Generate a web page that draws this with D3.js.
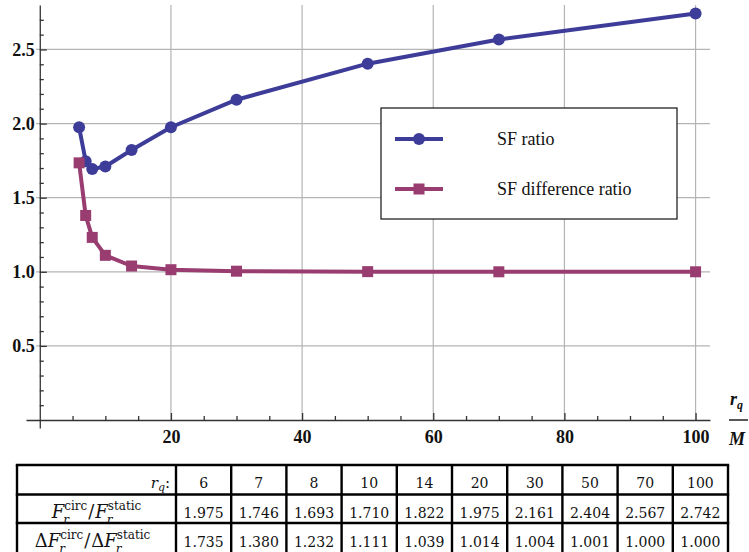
<!DOCTYPE html>
<html>
<head>
<meta charset="utf-8">
<script src="https://cdn.jsdelivr.net/npm/d3@7"></script>
<style>
  html, body { margin: 0; padding: 0; background: #fff; }
  svg { display: block; }
</style>
</head>
<body>
<svg id="chart" width="749" height="552"></svg>
<script>
// ---- data ----
const rqValues = [6, 7, 8, 10, 14, 20, 30, 50, 70, 100];
const sfRatio = [1.975, 1.746, 1.693, 1.710, 1.822, 1.975, 2.161, 2.404, 2.567, 2.742];
const sfDiffRatio = [1.735, 1.380, 1.232, 1.111, 1.039, 1.014, 1.004, 1.001, 1.000, 1.000];
const seriesNames = ["SF ratio", "SF difference ratio"];
const xMajorTicks = [20, 40, 60, 80, 100];
const xMinorTicks = [5, 10, 15, 25, 30, 35, 45, 50, 55, 65, 70, 75, 85, 90, 95];
const yMajorTicks = [0.5, 1.0, 1.5, 2.0, 2.5];
const yMinorTicks = [0.1,0.2,0.3,0.4,0.6,0.7,0.8,0.9,1.1,1.2,1.3,1.4,1.6,1.7,1.8,1.9,2.1,2.2,2.3,2.4,2.6,2.7];

const colors = ["#3d3d99", "#993d70"];
const svg = d3.select("#chart");

const x = d3.scaleLinear().domain([-2.1, 102.2]).range([26, 710]);
const y = d3.scaleLinear().domain([-0.054, 2.8]).range([428, 5]);

// gridlines
const grid = svg.append("g");
grid.selectAll("line.v").data(xMajorTicks).join("line")
  .attr("x1", d => x(d)).attr("x2", d => x(d))
  .attr("y1", y(2.8)).attr("y2", y(0))
  .attr("stroke", "#b4b4b4").attr("stroke-width", 1.2);
grid.selectAll("line.h").data(yMajorTicks).join("line")
  .attr("x1", 36).attr("x2", x.range()[1])
  .attr("y1", d => y(d)).attr("y2", d => y(d))
  .attr("stroke", "#b4b4b4").attr("stroke-width", 1.2);

// axes
const axisColor = "#333";
const labelFont = "Liberation Serif";
function styleAxis(g) {
  g.selectAll("path, line").attr("stroke", axisColor).attr("stroke-width", 1.3);
  g.selectAll("text").attr("fill", "#111").attr("font-family", labelFont)
    .attr("font-weight", "bold").attr("font-size", 18);
}
const xAxisG = svg.append("g").attr("transform", `translate(0,${y(0)})`)
  .call(d3.axisBottom(x).tickValues(xMajorTicks).tickSizeInner(-7).tickSizeOuter(0)
    .tickPadding(10).tickFormat(d3.format("d")));
styleAxis(xAxisG);
const xMinorG = svg.append("g").attr("transform", `translate(0,${y(0)})`)
  .call(d3.axisBottom(x).tickValues(xMinorTicks).tickSizeInner(-4).tickSizeOuter(0).tickFormat(""));
xMinorG.select(".domain").remove();
styleAxis(xMinorG);

const yAxisG = svg.append("g").attr("transform", `translate(${x(0)},0)`)
  .call(d3.axisLeft(y).tickValues(yMajorTicks).tickSizeInner(-7).tickSizeOuter(0)
    .tickPadding(5).tickFormat(d3.format(".1f")));
styleAxis(yAxisG);
const yMinorG = svg.append("g").attr("transform", `translate(${x(0)},0)`)
  .call(d3.axisLeft(y).tickValues(yMinorTicks).tickSizeInner(-4).tickSizeOuter(0).tickFormat(""));
yMinorG.select(".domain").remove();
styleAxis(yMinorG);

// axis label r_q / M
const axLab = svg.append("g").attr("font-family", labelFont).attr("font-weight", "bold")
  .attr("font-style", "italic").attr("fill", "#111");
const rt = axLab.append("text").attr("x", 730).attr("y", 405).attr("font-size", 18);
rt.append("tspan").text("r");
rt.append("tspan").attr("dy", 4).attr("font-size", 12).text("q");
axLab.append("line").attr("x1", 729).attr("x2", 748).attr("y1", y(0)).attr("y2", y(0))
  .attr("stroke", "#111").attr("stroke-width", 1.4);
axLab.append("text").attr("x", 729).attr("y", 445).attr("font-size", 18).text("M");

// series
const series = [sfRatio, sfDiffRatio];
const line = d3.line().x(d => x(d[0])).y(d => y(d[1]));
series.forEach((vals, si) => {
  const pts = rqValues.map((r, i) => [r, vals[i]]);
  const g = svg.append("g");
  g.append("path").datum(pts).attr("d", line).attr("fill", "none")
    .attr("stroke", colors[si]).attr("stroke-width", 4).attr("stroke-linejoin", "round");
  if (si === 0) {
    g.selectAll("circle").data(pts).join("circle")
      .attr("cx", d => x(d[0])).attr("cy", d => y(d[1])).attr("r", 6).attr("fill", colors[si]);
  } else {
    g.selectAll("rect").data(pts).join("rect")
      .attr("x", d => x(d[0]) - 5.5).attr("y", d => y(d[1]) - 5.5)
      .attr("width", 11).attr("height", 11).attr("fill", colors[si]);
  }
});

// legend
const leg = svg.append("g");
leg.append("rect").attr("x", 381).attr("y", 108).attr("width", 296).attr("height", 111)
  .attr("fill", "#fff").attr("stroke", "#111").attr("stroke-width", 1.2);
seriesNames.forEach((name, i) => {
  const ly = 139 + i * 50;
  leg.append("line").attr("x1", 395).attr("x2", 443).attr("y1", ly).attr("y2", ly)
    .attr("stroke", colors[i]).attr("stroke-width", 4);
  if (i === 0) leg.append("circle").attr("cx", 419).attr("cy", ly).attr("r", 6).attr("fill", colors[i]);
  else leg.append("rect").attr("x", 413.5).attr("y", ly - 5.5).attr("width", 11).attr("height", 11).attr("fill", colors[i]);
  leg.append("text").attr("x", 497).attr("y", ly + 6).attr("font-family", labelFont)
    .attr("font-size", 18).attr("fill", "#111").text(name);
});

// table
const tFont = "DejaVu Serif";
const tbl = svg.append("g");
const colScale = d3.scaleBand().domain(rqValues.map(String)).range([176, 728]);
const rowTops = [465, 494.5, 523];
const tableLeft = 17, tableRight = 728, tableBottom = 552.5;
const fmt = d3.format(".3f");
const rows = [rqValues.map(String), sfRatio.map(fmt), sfDiffRatio.map(fmt)];
const baselines = [488, 517.5, 546.5];
rows.forEach((r, ri) => {
  tbl.selectAll(null).data(r).join("text")
    .attr("x", (d, i) => colScale(String(rqValues[i])) + colScale.bandwidth() / 2)
    .attr("y", baselines[ri]).attr("text-anchor", "middle")
    .attr("font-family", tFont).attr("font-size", 14).attr("fill", "#111")
    .text(d => d);
});
// header label r_q:
const hl = tbl.append("text").attr("x", 170).attr("y", baselines[0]).attr("text-anchor", "end")
  .attr("font-family", tFont).attr("font-size", 15).attr("fill", "#111");
hl.append("tspan").attr("font-style", "italic").text("r");
hl.append("tspan").attr("dy", 3).attr("font-style", "italic").attr("font-size", 11).text("q");
hl.append("tspan").attr("dy", -3).text(":");

// math labels built from pieces
function mathLabel(parts, cx, base) {
  const g = tbl.append("g");
  let cur = 0;
  parts.forEach(p => {
    if (p.t) {
      const t = g.append("text").attr("x", cur).attr("y", 0)
        .attr("font-family", tFont).attr("font-size", 18).attr("fill", "#111")
        .attr("font-style", p.it ? "italic" : "normal").text(p.t);
      cur += t.node().getComputedTextLength() + (p.sp || 0);
    } else {
      const s1 = g.append("text").attr("x", cur).attr("y", -8)
        .attr("font-family", tFont).attr("font-size", 12).attr("fill", "#111").text(p.sup);
      const s2 = g.append("text").attr("x", cur - 1).attr("y", 6)
        .attr("font-family", tFont).attr("font-size", 12).attr("font-style", "italic")
        .attr("fill", "#111").text(p.sub);
      cur += Math.max(s1.node().getComputedTextLength(), s2.node().getComputedTextLength()) + 1;
    }
  });
  g.attr("transform", `translate(${cx - cur / 2},${base})`);
}
mathLabel([{t: "F", it: true}, {sup: "circ", sub: "r"}, {t: "/", sp: 1}, {t: "F", it: true}, {sup: "static", sub: "r"}], 97, baselines[1]);
mathLabel([{t: "Δ"}, {t: "F", it: true}, {sup: "circ", sub: "r"}, {t: "/", sp: 1}, {t: "Δ"}, {t: "F", it: true}, {sup: "static", sub: "r"}], 93, baselines[2]);

// table borders
const bw = 2.4;
rowTops.forEach(t => tbl.append("line").attr("x1", tableLeft - bw / 2).attr("x2", tableRight + bw / 2)
  .attr("y1", t).attr("y2", t).attr("stroke", "#000").attr("stroke-width", bw));
const vx = [tableLeft].concat(rqValues.map(r => colScale(String(r)))).concat([tableRight]);
tbl.selectAll("line.vb").data(vx).join("line")
  .attr("x1", d => d).attr("x2", d => d).attr("y1", rowTops[0]).attr("y2", tableBottom + 5)
  .attr("stroke", "#000").attr("stroke-width", bw);
</script>
</body>
</html>
